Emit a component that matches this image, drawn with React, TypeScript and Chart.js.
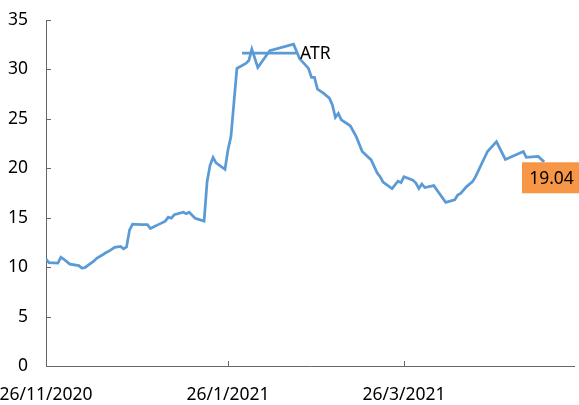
import React, { useEffect, useRef } from "react";
import { Chart, registerables } from "chart.js";

Chart.register(...registerables);

// day offsets from 26/11/2020
const days = [
  0, 1, 4, 5, 6, 8, 11, 12, 13, 16, 17, 19, 20, 21, 23, 25, 26, 27, 28, 29,
  32, 34, 35, 36, 38, 40, 41, 42, 43, 46, 47, 48, 50, 53, 54, 55, 56, 57, 60, 61,
  62, 64, 67, 68, 69, 71, 75, 83, 85, 88, 89, 90, 91, 93, 95, 96, 97, 98, 99, 102,
  104, 106, 109, 111, 112, 113, 116, 118, 119, 120, 123, 124, 125, 126, 127, 130, 132, 134, 137, 138,
  139, 141, 143, 144, 148, 151, 154, 160, 161, 165, 167,
];
const atrValues = [
  10.8, 10.45, 10.4, 11.0, 10.8, 10.3, 10.15, 9.9, 9.95, 10.6, 10.9, 11.25, 11.45, 11.6, 12.0, 12.1, 11.85, 12.05, 13.75, 14.35,
  14.3, 14.3, 13.9, 14.05, 14.35, 14.65, 15.05, 14.95, 15.3, 15.55, 15.4, 15.55, 14.95, 14.65, 18.65, 20.3, 21.1, 20.55, 19.9, 21.85,
  23.2, 30.1, 30.6, 30.9, 32.05, 30.2, 31.9, 32.55, 31.1, 30.1, 29.2, 29.2, 28.0, 27.6, 27.1, 26.4, 25.15, 25.55, 24.9, 24.3,
  23.2, 21.7, 20.85, 19.55, 19.15, 18.6, 17.95, 18.7, 18.55, 19.15, 18.8, 18.5, 17.95, 18.4, 18.05, 18.25, 17.4, 16.55, 16.8, 17.3,
  17.45, 18.15, 18.65, 19.15, 21.7, 22.7, 20.9, 21.7, 21.1, 21.2, 20.65,
];
const seriesName = "ATR";
const tickDays = [0, 61, 120];
const tickLabels = ["26/11/2020", "26/1/2021", "26/3/2021"];
const axisMaxDay = 177;
const lastLabelValue = 19.04;

const FONT = "'Noto Sans', sans-serif";
const LINE_COLOR = "#5B9BD5";
const AXIS_COLOR = "#666666";
const ORANGE = "#F79646";

const extrasPlugin = {
  id: "extras",
  afterDraw(chart: any) {
    const ctx = chart.ctx;
    const area = chart.chartArea;
    const xs = chart.scales.x;
    const ys = chart.scales.y;
    ctx.save();
    // inner tick marks
    ctx.strokeStyle = AXIS_COLOR;
    ctx.lineWidth = 1;
    ctx.beginPath();
    ys.ticks.forEach((t: any) => {
      const py = Math.round(ys.getPixelForValue(t.value)) + 0.5;
      ctx.moveTo(area.left, py);
      ctx.lineTo(area.left + 5, py);
    });
    xs.ticks.forEach((t: any) => {
      const px = Math.round(xs.getPixelForValue(t.value)) + 0.5;
      ctx.moveTo(px, area.bottom);
      ctx.lineTo(px, area.bottom - 5);
    });
    ctx.stroke();

    // legend inside plot
    const ly = 53;
    const lx = area.left + 196;
    ctx.strokeStyle = LINE_COLOR;
    ctx.lineWidth = 2.75;
    ctx.beginPath();
    ctx.moveTo(lx, ly);
    ctx.lineTo(lx + 55, ly);
    ctx.stroke();
    ctx.fillStyle = "#000000";
    ctx.font = `17.5px ${FONT}`;
    ctx.textAlign = "left";
    ctx.textBaseline = "middle";
    ctx.fillText(seriesName, lx + 58, ly + 1);

    // last value label
    const cy = ys.getPixelForValue(lastLabelValue);
    const bx = area.right - 52;
    const bw = chart.width - bx;
    const bh = 31;
    ctx.fillStyle = ORANGE;
    ctx.fillRect(bx, cy - bh / 2, bw, bh);
    ctx.fillStyle = "#000000";
    ctx.textAlign = "center";
    ctx.fillText(lastLabelValue.toFixed(2), bx + bw / 2 + 1, cy + 1);
    ctx.restore();
  },
};

export default function App() {
  const ref = useRef<HTMLCanvasElement | null>(null);
  useEffect(() => {
    if (!ref.current) return;
    const chart = new Chart(ref.current, {
      type: "line",
      data: {
        datasets: [
          {
            label: seriesName,
            data: days.map((d, i) => ({ x: d, y: atrValues[i] })),
            borderColor: LINE_COLOR,
            borderWidth: 2.75,
            pointRadius: 0,
            tension: 0,
            fill: false,
          },
        ],
      },
      options: {
        responsive: false,
        animation: false,
        layout: { padding: { left: 0, right: 5, top: 20, bottom: 0 } },
        plugins: { legend: { display: false }, tooltip: { enabled: false } },
        scales: {
          x: {
            type: "linear",
            min: 0,
            max: axisMaxDay,
            afterBuildTicks: (scale: any) => {
              scale.ticks = tickDays.map((v) => ({ value: v }));
            },
            afterFit: (scale: any) => {
              scale.height = 39;
              scale.paddingLeft = 0;
              scale.paddingRight = 0;
              scale.paddingTop = 0;
              scale.paddingBottom = 0;
            },
            grid: { display: false, drawTicks: false },
            border: { display: true, color: AXIS_COLOR, width: 1 },
            ticks: {
              autoSkip: false,
              maxRotation: 0,
              padding: 19,
              color: "#000000",
              font: { family: FONT, size: 17.5 },
              callback: (v: any) => {
                const i = tickDays.indexOf(Number(v));
                return i >= 0 ? tickLabels[i] : "";
              },
            },
          },
          y: {
            min: 0,
            max: 35,
            afterFit: (scale: any) => {
              scale.width = 46;
              scale.paddingLeft = 0;
              scale.paddingRight = 0;
              scale.paddingTop = 0;
              scale.paddingBottom = 0;
            },
            grid: { display: false, drawTicks: false },
            border: { display: true, color: AXIS_COLOR, width: 1 },
            ticks: {
              stepSize: 5,
              padding: 18,
              color: "#000000",
              font: { family: FONT, size: 17.5 },
            },
          },
        },
      },
      plugins: [extrasPlugin],
    });
    return () => chart.destroy();
  }, []);
  return (
    <div style={{ position: "fixed", left: 0, top: 0, width: 579, height: 405, background: "#fff" }}>
      <canvas ref={ref} width={579} height={405} />
    </div>
  );
}
